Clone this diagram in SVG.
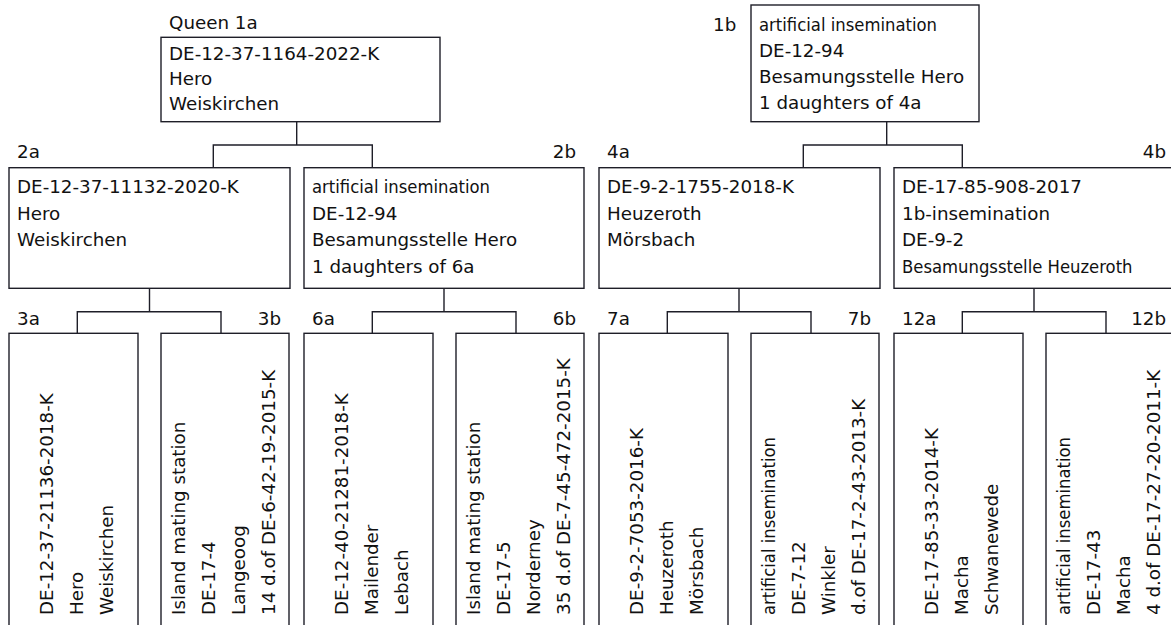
<svg xmlns="http://www.w3.org/2000/svg" width="1171" height="625" viewBox="0 0 1171 625">
<style>
text{font-family:"DejaVu Sans","Liberation Sans",sans-serif;font-size:18.3px;fill:#111}
.c{font-family:"DejaVu Sans Condensed","DejaVu Sans",sans-serif;font-stretch:condensed}
.e{text-anchor:end}
rect{fill:#fff;stroke:#1e1e28;stroke-width:1.4}
#connectors path{fill:none;stroke:#1e1e28;stroke-width:1.4}
</style>
<rect x="0" y="0" width="1171" height="625" style="stroke:none;fill:#fff"/>
<g id="connectors">
<path d="M296.7,122V145M213.3,168V145H372.3V168"/>
<path d="M886.7,122V145M803.3,168V145H962.3V168"/>
<path d="M149.5,288V311.7M77.3,333V311.7H221V333"/>
<path d="M444,288V311.7M372.3,333V311.7H516V333"/>
<path d="M739,288V311.7M667.3,333V311.7H811V333"/>
<path d="M1034,288V311.7M962.3,333V311.7H1106V333"/>
</g>
<g id="n1a">
<text x="169" y="29.3">Queen 1a</text>
<rect x="161" y="37.3" width="279" height="84.4"/>
<text x="169" y="59.8">DE-12-37-1164-2022-K</text>
<text x="169" y="85">Hero</text>
<text x="169" y="110.3">Weiskirchen</text>
</g>
<g id="n1b">
<text x="713" y="30.5">1b</text>
<rect x="751" y="5" width="228" height="116.7"/>
<text class="c" x="759" y="30.7">artificial insemination</text>
<text x="759" y="56.5">DE-12-94</text>
<text x="759" y="82.8">Besamungsstelle Hero</text>
<text x="759" y="109.3">1 daughters of 4a</text>
</g>
<g id="n2a">
<text x="17" y="158">2a</text>
<rect x="9" y="167.7" width="281" height="120.6"/>
<text x="17" y="193.3">DE-12-37-11132-2020-K</text>
<text x="17" y="219.8">Hero</text>
<text x="17" y="246.3">Weiskirchen</text>
</g>
<g id="n2b">
<text class="e" x="576" y="158">2b</text>
<rect x="304" y="167.7" width="280" height="120.6"/>
<text class="c" x="312" y="193.3">artificial insemination</text>
<text x="312" y="219.8">DE-12-94</text>
<text x="312" y="246.3">Besamungsstelle Hero</text>
<text x="312" y="272.7">1 daughters of 6a</text>
</g>
<g id="n4a">
<text x="607" y="158">4a</text>
<rect x="599" y="167.7" width="281" height="120.6"/>
<text x="607" y="193.3">DE-9-2-1755-2018-K</text>
<text x="607" y="219.8">Heuzeroth</text>
<text x="607" y="246.3">Mörsbach</text>
</g>
<g id="n4b">
<text class="e" x="1166" y="158">4b</text>
<rect x="894" y="167.7" width="281" height="120.6"/>
<text x="902" y="193.3">DE-17-85-908-2017</text>
<text x="902" y="219.8">1b-insemination</text>
<text x="902" y="246.3">DE-9-2</text>
<text class="c" x="902" y="272.7">Besamungsstelle Heuzeroth</text>
</g>
<g id="n3a">
<text x="17" y="325">3a</text>
<rect x="9" y="333.3" width="129" height="400"/>
<text transform="translate(53.3,615) rotate(-90)">DE-12-37-21136-2018-K</text>
<text transform="translate(83.3,615) rotate(-90)">Hero</text>
<text transform="translate(113.3,615) rotate(-90)">Weiskirchen</text>
</g>
<g id="n3b">
<text class="e" x="281" y="325">3b</text>
<rect x="161" y="333.3" width="128" height="400"/>
<text transform="translate(184.5,615) rotate(-90)">Island mating station</text>
<text transform="translate(214.5,615) rotate(-90)">DE-17-4</text>
<text transform="translate(244.5,615) rotate(-90)">Langeoog</text>
<text transform="translate(274.5,615) rotate(-90)">14 d.of DE-6-42-19-2015-K</text>
</g>
<g id="n6a">
<text x="312" y="325">6a</text>
<rect x="304" y="333.3" width="129" height="400"/>
<text transform="translate(348.3,615) rotate(-90)">DE-12-40-21281-2018-K</text>
<text transform="translate(378.3,615) rotate(-90)">Mailender</text>
<text transform="translate(408.3,615) rotate(-90)">Lebach</text>
</g>
<g id="n6b">
<text class="e" x="576" y="325">6b</text>
<rect x="456" y="333.3" width="128" height="400"/>
<text transform="translate(479.5,615) rotate(-90)">Island mating station</text>
<text transform="translate(509.5,615) rotate(-90)">DE-17-5</text>
<text transform="translate(539.5,615) rotate(-90)">Norderney</text>
<text transform="translate(569.5,615) rotate(-90)">35 d.of DE-7-45-472-2015-K</text>
</g>
<g id="n7a">
<text x="607" y="325">7a</text>
<rect x="599" y="333.3" width="129" height="400"/>
<text transform="translate(643.3,615) rotate(-90)">DE-9-2-7053-2016-K</text>
<text transform="translate(673.3,615) rotate(-90)">Heuzeroth</text>
<text transform="translate(703.3,615) rotate(-90)">Mörsbach</text>
</g>
<g id="n7b">
<text class="e" x="871" y="325">7b</text>
<rect x="751" y="333.3" width="128" height="400"/>
<text class="c" transform="translate(774.5,615) rotate(-90)">artificial insemination</text>
<text transform="translate(804.5,615) rotate(-90)">DE-7-12</text>
<text transform="translate(834.5,615) rotate(-90)">Winkler</text>
<text transform="translate(864.5,615) rotate(-90)">d.of DE-17-2-43-2013-K</text>
</g>
<g id="n12a">
<text x="902" y="325">12a</text>
<rect x="894" y="333.3" width="129" height="400"/>
<text transform="translate(938.3,615) rotate(-90)">DE-17-85-33-2014-K</text>
<text transform="translate(968.3,615) rotate(-90)">Macha</text>
<text transform="translate(998.3,615) rotate(-90)">Schwanewede</text>
</g>
<g id="n12b">
<text class="e" x="1166" y="325">12b</text>
<rect x="1046" y="333.3" width="129" height="400"/>
<text class="c" transform="translate(1069.5,615) rotate(-90)">artificial insemination</text>
<text transform="translate(1099.5,615) rotate(-90)">DE-17-43</text>
<text transform="translate(1129.5,615) rotate(-90)">Macha</text>
<text transform="translate(1159.5,615) rotate(-90)">4 d.of DE-17-27-20-2011-K</text>
</g>
</svg>
